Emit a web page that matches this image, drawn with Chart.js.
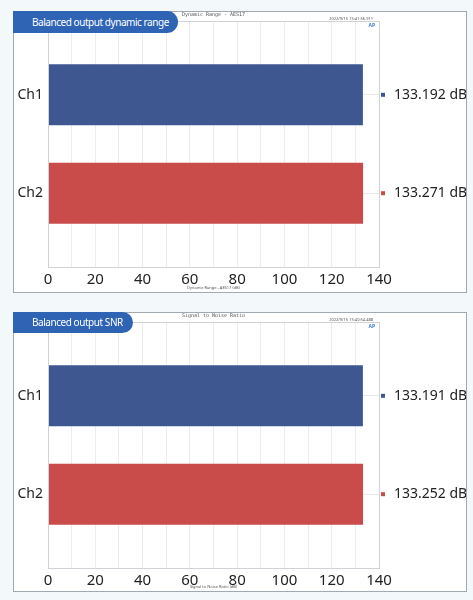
<!DOCTYPE html>
<html>
<head>
<meta charset="utf-8">
<script src="https://cdn.jsdelivr.net/npm/chart.js@4.4.1/dist/chart.umd.min.js"></script>
<style>
  body { margin: 0; background: #f3f8fa; width: 473px; height: 600px; position: relative; overflow: hidden; font-family: "Noto Sans", sans-serif; }
  .frame { position: absolute; left: 13px; width: 454px; box-sizing: border-box; border: 1px solid #a3a9b1; background: #fff; }
  .frame canvas { position: absolute; left: 0; top: 0; }
  .badge { position: absolute; left: -1px; top: -1px; height: 22px; line-height: 22px; background: #2f63b4; color: #fff; white-space: nowrap;
           font-size: 10px; letter-spacing: -0.45px; padding-left: 19px; border-radius: 0 11px 11px 0; box-sizing: border-box; }
</style>
</head>
<body>
<div class="frame" style="top:11px;height:282px;">
  <canvas id="grafica1"></canvas>
  <div class="badge" style="width:165px;">Balanced output dynamic range</div>
</div>
<div class="frame" style="top:312px;height:280px;">
  <canvas id="grafica2"></canvas>
  <div class="badge" style="width:120px;height:21px;line-height:21px;">Balanced output SNR</div>
</div>
<script>
// Datos de las dos gráficas
const canales = ['Ch1', 'Ch2'];
const rangoDinamico = [133.192, 133.271];
const snr = [133.191, 133.252];
const colores = ['#3e5791', '#c94b4a'];
const ticksX = [0, 20, 40, 60, 80, 100, 120, 140];

// Dibuja el marco del área, los textos pequeños y los valores a la derecha
const extras = {
    id: 'extras',
    afterDatasetsDraw(chart, args, opts) {
        const c = chart.ctx;
        const a = chart.chartArea;
        c.save();
        c.strokeStyle = '#cfd3d8';
        c.lineWidth = 1;
        c.strokeRect(a.left + 0.5, a.top + 0.5, a.right - a.left, a.bottom - a.top);

        const meta = chart.getDatasetMeta(0);
        const valores = chart.data.datasets[0].data;
        meta.data.forEach((barra, i) => {
            c.fillStyle = colores[i];
            c.fillRect(a.right + 2, barra.y - 2, 4, 4);
            c.fillStyle = '#222';
            c.font = '14px "Noto Sans"';
            c.textBaseline = 'middle';
            c.textAlign = 'left';
            c.fillText(valores[i].x.toFixed(3) + ' dB', a.right + 15, barra.y);
        });

        // textos diminutos de cabecera
        c.fillStyle = '#555';
        c.font = '5px "DejaVu Sans Mono"';
        c.textAlign = 'center';
        c.fillText(opts.titulo, (a.left + a.right) / 2, 3);
        c.textAlign = 'right';
        c.font = '4px "Noto Sans"';
        c.fillText(opts.fecha, a.right - 6, 7);
        c.fillStyle = '#3a7bd5';
        c.font = 'bold 5px "Noto Sans"';
        c.fillText('AP', a.right - 4, 14);
        c.restore();
    }
};

function crearGrafica(id, valores, titulo, fecha, tituloEje, alto) {
    const canvas = document.getElementById(id);
    canvas.width = 452;
    canvas.height = alto;
    const ctx = canvas.getContext('2d');
    return new Chart(ctx, {
        type: 'bar',
        data: {
            datasets: [{
                data: valores.map((v, i) => ({ x: v, y: i + 1 })),
                backgroundColor: colores,
                borderWidth: 0,
                barPercentage: 0.62,
                categoryPercentage: 1
            }]
        },
        options: {
            responsive: false,
            animation: false,
            indexAxis: 'y',
            layout: { padding: { top: 9, right: 87, left: 0, bottom: 0 } },
            plugins: {
                legend: { display: false },
                tooltip: { enabled: false },
                extras: { titulo: titulo, fecha: fecha }
            },
            scales: {
                x: {
                    type: 'linear',
                    min: ticksX[0],
                    max: ticksX[ticksX.length - 1],
                    ticks: {
                        stepSize: 10,
                        autoSkip: false,
                        maxRotation: 0,
                        padding: 4,
                        color: '#222',
                        font: { family: 'Noto Sans', size: 15 },
                        callback: v => ticksX.includes(v) ? String(v) : ''
                    },
                    grid: { color: '#ececec', drawTicks: false },
                    border: { display: false },
                    title: { display: true, text: tituloEje, color: '#555', font: { family: 'Noto Sans', size: 4 }, padding: { top: 0, bottom: 2 } },
                    afterFit: s => { s.height = alto - 255; s.paddingLeft = 0; s.paddingRight = 0; }
                },
                y: {
                    type: 'linear',
                    offset: false,
                    min: 0.25,
                    max: 2.75,
                    reverse: true,
                    ticks: {
                        stepSize: 1,
                        includeBounds: false,
                        padding: 5,
                        color: '#222',
                        font: { family: 'Noto Sans', size: 14 },
                        callback: v => canales[v - 1] || ''
                    },
                    grid: { color: '#e8e8e8', drawTicks: false, offset: false },
                    border: { display: false },
                    afterFit: s => { s.width = 34; s.paddingTop = 0; s.paddingBottom = 0; }
                }
            }
        },
        plugins: [extras]
    });
}

document.addEventListener('DOMContentLoaded', function() {
    crearGrafica('grafica1', rangoDinamico, 'Dynamic Range - AES17', '2022/9/15 15:41:56.911', 'Dynamic Range - AES17 (dB)', 280);
    crearGrafica('grafica2', snr, 'Signal to Noise Ratio', '2022/9/15 15:40:54.488', 'Signal to Noise Ratio (dB)', 278);
});
</script>
</body>
</html>
